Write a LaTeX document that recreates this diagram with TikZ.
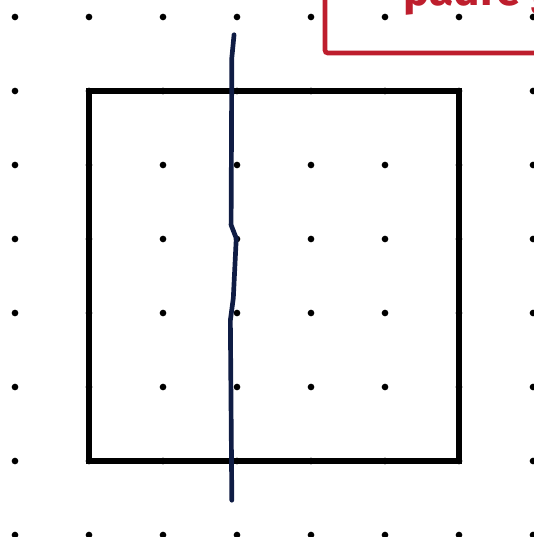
\documentclass[tikz,border=0pt]{standalone}
\usepackage{fontspec}
\setmainfont{Fira Sans}
\definecolor{dotblack}{RGB}{0,0,0}
\definecolor{boxred}{RGB}{190,30,45}
\definecolor{cutblue}{RGB}{15,28,68}
\tikzset{
    griddot/.style={fill=dotblack, draw=none},
    square/.style={draw=black, line width=2.2pt},
    cutline/.style={draw=cutblue, line width=1.8pt, line join=round, line cap=round},
    labelbox/.style={draw=boxred, line width=1.8pt, rounded corners=1pt}
}

\begin{document}
\begin{tikzpicture}
        \useasboundingbox (-0.2027,0.2297) rectangle (7.0135,-7.027);
        \clip (-0.2027,0.2297) rectangle (7.0135,-7.027);
        % dot grid
        \foreach \i in {0,...,7}
            \foreach \j in {0,...,7}
                \fill[griddot] (\i,-\j) circle (0.045);
        % red label box, mostly above the page
        \draw[labelbox] (4.19,1) |- (8,-0.486);
        \node (T) at (5.24,0.16) [anchor=base west, text=boxred, font=\bfseries\fontsize{17}{20}\selectfont, inner sep=0pt] {padre g};
        % square
        \coordinate (A) at (1,-1);
        \coordinate (B) at (6,-6);
        \draw[square] (A) rectangle (B);
        % cut
        \draw[cutline] (2.96,-0.24) -- (2.93,-0.55) -- (2.92,-2.81) -- (2.99,-2.99)
            -- (2.95,-3.8) -- (2.91,-4.1) -- (2.93,-6.53);

    \end{tikzpicture}
\end{document}
